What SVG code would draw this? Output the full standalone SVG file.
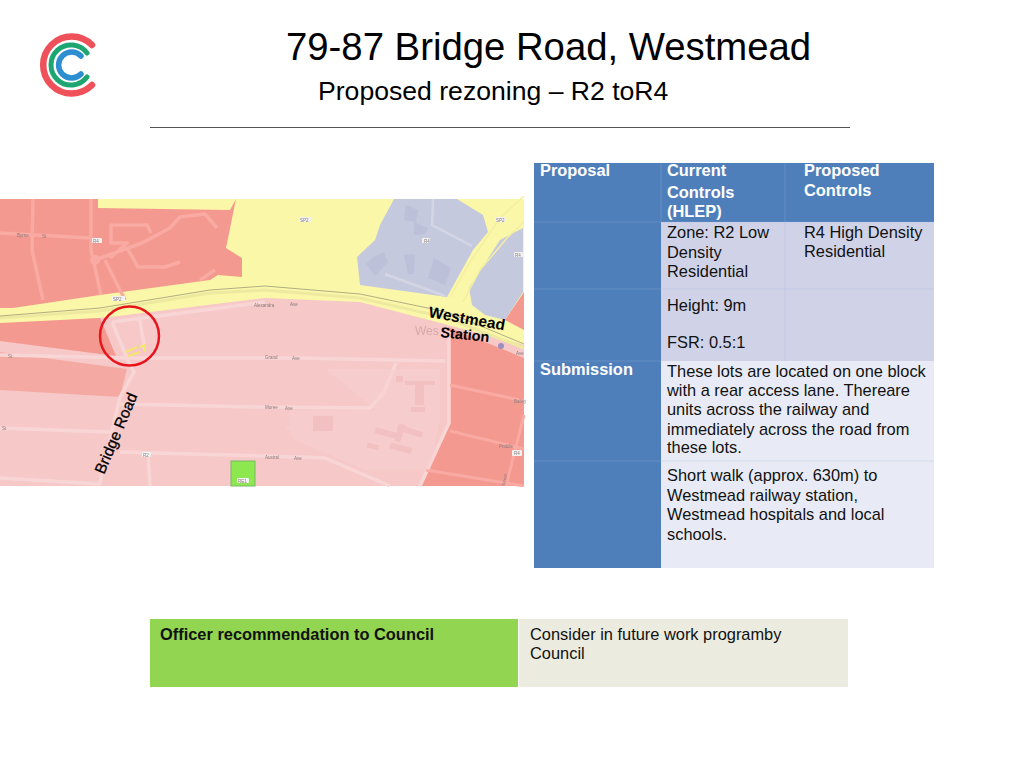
<svg xmlns="http://www.w3.org/2000/svg" width="1020" height="773" viewBox="0 0 1020 773">
<style>
text{font-family:"Liberation Sans",Arial,sans-serif}
.b{font-size:16.4px;fill:#111}
.h{font-size:16.4px;font-weight:bold;fill:#fff}
.m{font-size:4.5px;fill:#8a7a7a}
.rd{fill:none;stroke:#f9aaa3;stroke-width:3.5;stroke-linejoin:round}
.pk{fill:none;stroke:#f9d6d6;stroke-width:3.5;stroke-linejoin:round}
.bd{fill:#f2c0c0}
.sl{fill:#bcc0d8}
.lbl{fill:#f2f2f2}
</style>
<defs><filter id="soft" x="0" y="0" width="1" height="1"><feGaussianBlur stdDeviation="0.6"/></filter></defs>
<rect width="1020" height="773" fill="#fff"/>
<g id="logo" fill="none" stroke-linecap="round">
<path d="M92 45A28.500 28.500 0 1 0 92 85" stroke="#ee5159" stroke-width="6.500"/>
<path d="M87 53A20 20 0 1 0 87 77" stroke="#1ea672" stroke-width="5"/>
<path d="M81 56A13 13 0 1 0 81 74" stroke="#2e8fd0" stroke-width="5.500"/>
</g>
<g id="title">
<text x="286" y="60" font-size="38.300" fill="#000">79-87 Bridge Road, Westmead</text>
<text x="318" y="100" font-size="26.600" fill="#000">Proposed rezoning – R2 toR4</text>
<line x1="150" y1="127.500" x2="850" y2="127.500" stroke="#555" stroke-width="1"/>
</g>
<g id="map">
<g filter="url(#soft)">
<rect x="0" y="199" width="524" height="287" fill="#f6c8c8"/>
<path d="M0 199H524V345L448 325L360 302L265 298L110 317L0 325Z" fill="#fbf7a8"/>
<path d="M0 199H98V208L230 210L236 199L226 248L242 258L242 277L218 275L210 280L100 295L13 308H0Z" fill="#f4998f"/>
<path d="M0 323L100 318L116 356L0 341Z" fill="#f4998f"/>
<path d="M0 352L127 369L120 397L0 390Z" fill="#f4aaa2"/>
<path d="M394 199L380 225L375 240L357 257L360 285L447 297L473 250L488 232L483 215L457 199Z" fill="#c5c9de"/>
<path d="M523 228L500 240L469 288L472 305L485 315L505 320L523 292Z" fill="#c5c9de"/>
<path d="M505 320L524 292V330Z" fill="#f4998f"/>
<path d="M448 327L524 358V486H421L448 424Z" fill="#f4998f"/>
<path d="M450 297L470 262L500 218L524 196M463 302L480 270L507 238L524 222" fill="none" stroke="#f3eea0" stroke-width="1.500"/>
<path d="M0 318L100 311L210 293L265 290L360 298L447 318L524 348" fill="none" stroke="#eee9a0" stroke-width="3"/>
<path d="M0 316L100 308L210 290L265 286L360 294L447 312L524 344" fill="none" stroke="#a9a57f" stroke-width=".9"/>
<path class="rd" d="M0 233L90 238M33 199L32 250L43 300M91 199L91 250L101 295M95 260L142 243L170 228L180 217L205 214L217 228M110 258L127 243L111 243L111 225L147 225L151 233M127 248L138 267L165 267L180 262M105 260L125 300M215 270L200 280"/>
<circle cx="95" cy="260" r="5" fill="#f9aaa3"/>
<path class="pk" d="M112 322L127 358H145M139 316L145 350M112 322L265 302M127 358L134 372L120 397L99 486M0 355L130 358L300 358L445 361M449 331V423L420 486M0 428L110 432M120 404L263 407L370 408L384 392L396 363M120 452L300 457L325 458L390 486M0 478L100 484M148 453L150 486"/>
<path d="M450 385L524 401M450 431L524 449M426 470L524 486M524 415L506 486" fill="none" stroke="#f9aaa3" stroke-width="3"/>
<path d="M325 369H440V420L430 470L365 470L295 440L285 426H290L288 415H290V410H376Z" fill="#f8d0d0" opacity=".5"/>
<g class="bd">
<rect x="313" y="416" width="20" height="15"/><rect x="391" y="430" width="18" height="6" transform="rotate(-72 400 433)"/>
<rect x="396" y="376" width="7" height="6"/><rect x="415" y="385" width="9" height="20"/><rect x="405" y="381" width="30" height="4"/><rect x="411" y="407" width="14" height="5"/>
<rect x="375" y="430" width="22" height="6" transform="rotate(15 386 433)"/><rect x="397" y="428" width="26" height="6" transform="rotate(18 410 431)"/><rect x="390" y="445" width="22" height="6" transform="rotate(15 400 448)"/><rect x="367" y="444" width="12" height="5" transform="rotate(15 373 446)"/>
</g>
<g class="sl">
<path d="M406 205L418 210L416 222L404 220ZM414 222L428 228L425 234L414 235Z"/>
<path d="M372 258L384 252L388 262L375 276L366 264Z"/>
<path d="M404 255L415 254L414 274L408 274Z"/>
<path d="M434 258L451 268L445 285L428 278Z"/>
</g>
<path d="M433 199L432 225L472 246M385 274L445 296" fill="none" stroke="#d4d6e6" stroke-width="2.500"/>
<rect x="231" y="461" width="24" height="25" fill="#8de84f" stroke="#78b868" stroke-width="1"/>
<path d="M126 352L137 347M128 356L140 352M140 347L145 345L145 352" stroke="#f4e66a" stroke-width="2" fill="none"/>
<g>
<rect x="92" y="238" width="10" height="5" rx="1" class="lbl"/><rect x="111" y="296" width="14" height="5" rx="1" class="lbl"/><rect x="299" y="217" width="12" height="5" rx="1" class="lbl"/><rect x="422" y="238" width="8" height="5" rx="1" class="lbl"/><rect x="495" y="217" width="11" height="5" rx="1" class="lbl"/><rect x="514" y="252" width="9" height="5" rx="1" class="lbl"/><rect x="142" y="452" width="9" height="5" rx="1" class="lbl"/><rect x="237" y="478" width="12" height="5" rx="1" class="lbl"/><rect x="512" y="450" width="10" height="6" rx="1" class="lbl"/>
<text class="m" x="17" y="237">Byrne</text><text class="m" x="42" y="238">St</text>
<text class="m" x="93" y="242.500">R4</text><text class="m" x="113" y="300.500">SP2</text><text class="m" x="300" y="221.500">SP2</text><text class="m" x="424" y="242.500">R4</text><text class="m" x="496" y="221.500">SP2</text><text class="m" x="515" y="256.500">R4</text>
<text class="m" x="143" y="456.500">R2</text><text class="m" x="238" y="482.500">RE1</text><text class="m" x="514" y="454.500">R4</text>
<text class="m" x="254" y="307">Alexandra</text><text class="m" x="290" y="306">Ave</text>
<text class="m" x="265" y="359">Grand</text><text class="m" x="292" y="360">Ave</text>
<text class="m" x="265" y="409">Moree</text><text class="m" x="285" y="410">Ave</text>
<text class="m" x="265" y="459">Austral</text><text class="m" x="294" y="460">Ave</text>
<text class="m" x="8" y="358">St</text><text class="m" x="2" y="430">St</text><text class="m" x="516" y="355">Ave</text><text class="m" x="514" y="403">Bailey</text><text class="m" x="499" y="448">Priddle</text>
<text class="m" transform="translate(505 486) rotate(-80)">Street</text>
<text x="415" y="335" font-size="12" fill="#d9a8a8">Wes</text>
<circle cx="501" cy="346" r="3" fill="#9a8fc0"/>
</g>
</g>
<circle cx="129.500" cy="336" r="29.500" fill="none" stroke="#e8141c" stroke-width="2.500"/>
<text transform="translate(428 317) rotate(10)" font-size="15.500" font-weight="bold" fill="#000">Westmead</text>
<text transform="translate(440 337) rotate(6)" font-size="14.500" font-weight="bold" fill="#000">Station</text>
<text transform="translate(104 475) rotate(-67)" font-size="15.500" stroke="#000" stroke-width=".3" fill="#000">Bridge Road</text>
</g>
<g id="table">
<rect x="534" y="163" width="400" height="59" fill="#4f7fba"/>
<rect x="534" y="163" width="127" height="405" fill="#4f7fba"/>
<rect x="661" y="222" width="273" height="139" fill="#d0d3e8"/>
<rect x="661" y="361" width="273" height="207" fill="#e8ebf5"/>
<path d="M661 163V222M785 163V361M534 222H934M534 289H934M534 361H661M534 461H934" stroke="#9db8da" stroke-width=".6" fill="none" opacity=".45"/>
<g id="r1"><text class="h" x="540" y="176">Proposal</text>
<text class="h" x="667" y="176">Current</text><text class="h" x="667" y="197.500">Controls</text><text class="h" x="667" y="217">(HLEP)</text>
<text class="h" x="804" y="176">Proposed</text><text class="h" x="804" y="195.500">Controls</text></g>
<g id="r2"><text class="b" x="667" y="238">Zone: R2 Low</text><text class="b" x="667" y="258">Density</text><text class="b" x="667" y="277">Residential</text>
<text class="b" x="804" y="238">R4 High Density</text><text class="b" x="804" y="257">Residential</text></g>
<g id="r3"><text class="b" x="667" y="311">Height: 9m</text><text class="b" x="667" y="348">FSR: 0.5:1</text></g>
<g id="r4"><text class="h" x="540" y="375">Submission</text>
<text class="b" x="667" y="376.500">These lots are located on one block</text><text class="b" x="667" y="396">with a rear access lane. Thereare</text><text class="b" x="667" y="415">units across the railway and</text><text class="b" x="667" y="434.500">immediately across the road from</text><text class="b" x="667" y="453">these lots.</text></g>
<g id="r5"><text class="b" x="667" y="481">Short walk (approx. 630m) to</text><text class="b" x="667" y="501">Westmead railway station,</text><text class="b" x="667" y="520">Westmead hospitals and local</text><text class="b" x="667" y="540">schools.</text></g>
</g>
<g id="recommendation">
<rect x="150" y="619" width="368" height="68" fill="#92d550"/>
<rect x="519" y="619" width="329" height="68" fill="#ebebdf"/>
<text x="160" y="640" font-size="16.400" font-weight="bold" fill="#111">Officer recommendation to Council</text>
<text class="b" x="530" y="640">Consider in future work programby</text>
<text class="b" x="530" y="659">Council</text>
</g>
</svg>
